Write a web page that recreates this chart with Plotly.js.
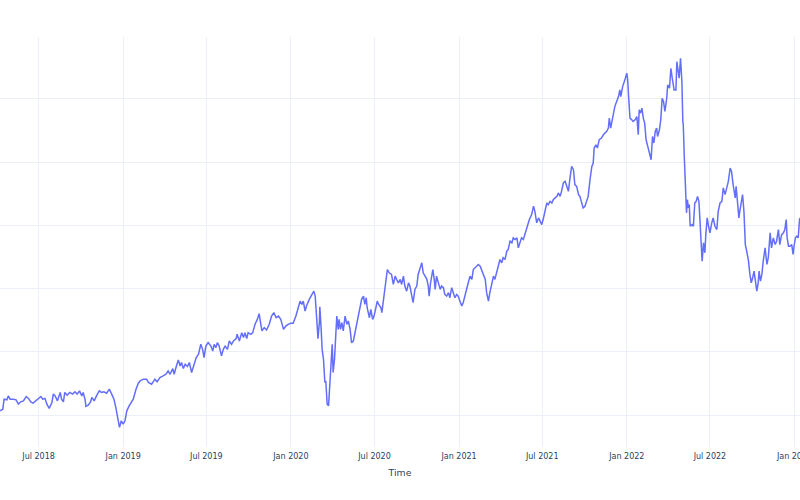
<!DOCTYPE html>
<html>
<head>
<meta charset="utf-8">
<script src="https://cdn.plot.ly/plotly-3.0.1.min.js"></script>
<style>
  html, body { margin: 0; padding: 0; background: #fff; overflow: hidden; }
  #wrap { width: 800px; height: 500px; overflow: hidden; }
  #chart { width: 830px; height: 500px; }
</style>
</head>
<body>
<div id="wrap"><div id="chart"></div></div>
<script>
// values (y axis has no visible labels, so units are arbitrary)
const dates = [
  '2018-04-08','2018-04-14','2018-04-17','2018-04-23','2018-04-26','2018-04-30','2018-05-07','2018-05-13','2018-05-18','2018-05-23',
  '2018-05-29','2018-06-04','2018-06-09','2018-06-14','2018-06-19','2018-06-25','2018-06-30','2018-07-06','2018-07-10','2018-07-15',
  '2018-07-19','2018-07-24','2018-07-30','2018-08-02','2018-08-06','2018-08-11','2018-08-17','2018-08-20','2018-08-24','2018-08-27',
  '2018-09-01','2018-09-07','2018-09-13','2018-09-18','2018-09-23','2018-09-28','2018-10-03','2018-10-06','2018-10-10','2018-10-12',
  '2018-10-17','2018-10-22','2018-10-25','2018-10-30','2018-11-04','2018-11-10','2018-11-15','2018-11-20','2018-11-26','2018-12-02',
  '2018-12-07','2018-12-12','2018-12-16','2018-12-19','2018-12-24','2018-12-28','2019-01-01','2019-01-05','2019-01-09','2019-01-14',
  '2019-01-20','2019-01-23','2019-01-29','2019-02-03','2019-02-07','2019-02-14','2019-02-21','2019-02-25','2019-03-04','2019-03-11',
  '2019-03-16','2019-03-22','2019-03-29','2019-04-04','2019-04-09','2019-04-13','2019-04-19','2019-04-22','2019-04-26','2019-05-01',
  '2019-05-05','2019-05-08','2019-05-12','2019-05-16','2019-05-21','2019-05-25','2019-05-30','2019-06-04','2019-06-09','2019-06-14',
  '2019-06-19','2019-06-23','2019-06-26','2019-06-30','2019-07-05','2019-07-11','2019-07-15','2019-07-18','2019-07-22','2019-07-25',
  '2019-07-29','2019-08-03','2019-08-07','2019-08-11','2019-08-16','2019-08-20','2019-08-25','2019-08-29','2019-09-04','2019-09-06',
  '2019-09-11','2019-09-16','2019-09-20','2019-09-23','2019-09-27','2019-09-30','2019-10-06','2019-10-10','2019-10-15','2019-10-20',
  '2019-10-24','2019-10-27','2019-10-30','2019-11-04','2019-11-09','2019-11-15','2019-11-20','2019-11-25','2019-11-30','2019-12-05',
  '2019-12-10','2019-12-16','2019-12-21','2019-12-26','2020-01-01','2020-01-06','2020-01-12','2020-01-17','2020-01-21','2020-01-25',
  '2020-01-28','2020-02-01','2020-02-04','2020-02-10','2020-02-15','2020-02-20','2020-02-23','2020-02-26','2020-02-29','2020-03-03',
  '2020-03-04','2020-03-07','2020-03-09','2020-03-12','2020-03-15','2020-03-17','2020-03-20','2020-03-23','2020-03-26','2020-03-29',
  '2020-03-31','2020-04-02','2020-04-05','2020-04-08','2020-04-10','2020-04-13','2020-04-15','2020-04-18','2020-04-21','2020-04-24',
  '2020-04-28','2020-05-02','2020-05-05','2020-05-09','2020-05-12','2020-05-16','2020-05-20','2020-05-23','2020-05-27','2020-05-30',
  '2020-06-03','2020-06-07','2020-06-10','2020-06-13','2020-06-15','2020-06-20','2020-06-23','2020-06-27','2020-06-30','2020-07-04',
  '2020-07-07','2020-07-10','2020-07-15','2020-07-17','2020-07-20','2020-07-24','2020-07-29','2020-08-02','2020-08-07','2020-08-11',
  '2020-08-15','2020-08-18','2020-08-22','2020-08-26','2020-08-29','2020-09-02','2020-09-05','2020-09-09','2020-09-13','2020-09-16',
  '2020-09-20','2020-09-23','2020-09-27','2020-10-01','2020-10-04','2020-10-08','2020-10-12','2020-10-15','2020-10-19','2020-10-23',
  '2020-10-26','2020-10-28','2020-10-31','2020-11-05','2020-11-08','2020-11-10','2020-11-13','2020-11-17','2020-11-21','2020-11-24',
  '2020-11-28','2020-12-01','2020-12-05','2020-12-09','2020-12-12','2020-12-16','2020-12-20','2020-12-23','2020-12-27','2020-12-30',
  '2021-01-03','2021-01-07','2021-01-10','2021-01-14','2021-01-18','2021-01-21','2021-01-25','2021-01-29','2021-02-01','2021-02-05',
  '2021-02-08','2021-02-12','2021-02-16','2021-02-19','2021-02-23','2021-02-27','2021-03-02','2021-03-06','2021-03-09','2021-03-13',
  '2021-03-17','2021-03-20','2021-03-24','2021-03-27','2021-03-31','2021-04-04','2021-04-07','2021-04-11','2021-04-15','2021-04-18',
  '2021-04-22','2021-04-26','2021-04-29','2021-05-03','2021-05-07','2021-05-10','2021-05-14','2021-05-17','2021-05-21','2021-05-25',
  '2021-05-28','2021-06-01','2021-06-03','2021-06-08','2021-06-12','2021-06-15','2021-06-19','2021-06-23','2021-06-26','2021-06-30',
  '2021-07-03','2021-07-07','2021-07-11','2021-07-14','2021-07-18','2021-07-22','2021-07-25','2021-07-29','2021-08-02','2021-08-05',
  '2021-08-09','2021-08-12','2021-08-16','2021-08-20','2021-08-23','2021-08-27','2021-08-30','2021-09-03','2021-09-07','2021-09-10',
  '2021-09-14','2021-09-18','2021-09-21','2021-09-25','2021-09-28','2021-10-02','2021-10-06','2021-10-09','2021-10-13','2021-10-17',
  '2021-10-20','2021-10-22','2021-10-26','2021-10-29','2021-11-02','2021-11-07','2021-11-11','2021-11-15','2021-11-18','2021-11-22',
  '2021-11-24','2021-11-27','2021-11-30','2021-12-03','2021-12-06','2021-12-10','2021-12-14','2021-12-17','2021-12-19','2021-12-23',
  '2021-12-26','2021-12-29','2022-01-01','2022-01-03','2022-01-05','2022-01-08','2022-01-12','2022-01-15','2022-01-19','2022-01-23',
  '2022-01-26','2022-01-28','2022-01-31','2022-02-03','2022-02-06','2022-02-09','2022-02-12','2022-02-15','2022-02-19','2022-02-23',
  '2022-02-26','2022-03-01','2022-03-04','2022-03-07','2022-03-09','2022-03-13','2022-03-16','2022-03-19','2022-03-22','2022-03-25',
  '2022-03-29','2022-03-31','2022-04-04','2022-04-07','2022-04-10','2022-04-14','2022-04-18','2022-04-20','2022-04-23','2022-04-25',
  '2022-04-28','2022-05-01','2022-05-03','2022-05-04','2022-05-06','2022-05-08','2022-05-11','2022-05-13','2022-05-15','2022-05-17',
  '2022-05-19','2022-05-23','2022-05-26','2022-05-29','2022-06-01','2022-06-04','2022-06-07','2022-06-09','2022-06-12','2022-06-14',
  '2022-06-17','2022-06-20','2022-06-22','2022-06-25','2022-06-28','2022-07-01','2022-07-05','2022-07-08','2022-07-12','2022-07-16',
  '2022-07-19','2022-07-23','2022-07-27','2022-07-30','2022-08-03','2022-08-07','2022-08-10','2022-08-14','2022-08-17','2022-08-21',
  '2022-08-25','2022-08-27','2022-08-30','2022-09-02','2022-09-04','2022-09-07','2022-09-10','2022-09-13','2022-09-16','2022-09-19',
  '2022-09-23','2022-09-26','2022-09-29','2022-10-02','2022-10-05','2022-10-08','2022-10-11','2022-10-14','2022-10-16','2022-10-19',
  '2022-10-22','2022-10-25','2022-10-29','2022-11-02','2022-11-05','2022-11-09','2022-11-12','2022-11-16','2022-11-20','2022-11-23',
  '2022-11-27','2022-11-30','2022-12-04','2022-12-08','2022-12-11','2022-12-14','2022-12-16','2022-12-19','2022-12-22','2022-12-26',
  '2022-12-29','2022-12-31','2023-01-03','2023-01-06','2023-01-09','2023-01-12','2023-01-13'
];

const values = [
  103.4,104.7,112.6,112.1,115.2,112.6,112.6,112.1,108.7,110.5,
  111.3,114.7,113.2,110.5,109.5,111.3,112.6,114.7,112.6,113.2,
  108.7,105.3,110.0,116.6,115.2,111.3,117.9,112.6,110.5,117.9,
  115.8,117.9,116.6,118.4,116.6,119.2,115.2,117.9,112.6,106.9,
  107.9,110.5,114.0,111.3,115.2,119.2,117.9,118.4,117.3,120.5,
  116.6,112.6,106.1,99.4,90.3,95.5,92.9,95.5,103.4,107.3,
  111.3,112.6,120.5,125.2,127.0,128.4,128.4,125.8,124.4,128.4,
  126.3,129.7,131.0,132.3,134.9,132.3,136.8,132.3,137.6,143.6,
  138.9,141.6,136.8,140.2,138.4,141.6,133.7,139.4,145.5,148.1,
  156.0,152.0,145.5,154.6,157.3,154.6,150.7,156.0,153.4,157.3,
  154.6,146.8,152.0,154.6,152.0,158.6,156.0,158.6,160.5,163.9,
  158.6,165.2,161.3,165.2,160.5,165.2,163.9,165.2,171.8,175.7,
  180.2,173.1,166.6,169.2,167.3,171.8,178.3,181.0,177.0,178.3,
  175.7,167.8,170.4,171.8,172.6,172.6,178.3,184.9,190.1,187.5,
  190.1,182.3,186.2,191.5,195.4,198.0,194.1,178.3,160.5,173.1,
  185.7,167.8,152.0,144.2,125.8,127.0,108.7,107.3,128.4,152.0,
  156.0,133.7,144.2,165.2,178.3,167.8,175.7,167.8,173.1,166.5,
  178.3,171.8,174.4,167.8,157.3,158.6,166.5,169.2,179.6,183.6,
  191.5,194.1,187.5,192.8,184.9,177.0,183.6,175.7,178.3,184.9,
  190.1,187.5,184.9,181.0,188.9,202.0,215.1,212.5,211.2,203.3,
  209.9,207.3,204.6,207.3,203.3,209.9,202.0,198.0,204.6,202.0,
  195.4,188.9,199.4,202.0,211.2,215.1,220.4,212.5,209.9,207.3,
  202.0,194.1,204.6,215.1,207.3,199.4,209.9,204.6,199.4,202.0,
  200.7,195.4,194.1,196.8,192.8,200.7,195.4,192.8,195.4,194.1,
  190.1,186.2,188.9,195.4,199.4,204.6,209.9,207.3,215.1,216.5,
  217.7,219.1,217.7,215.1,211.2,207.3,196.8,190.1,196.8,204.6,
  209.9,207.3,213.8,216.5,223.0,220.4,224.4,223.0,229.6,230.9,
  237.5,236.2,240.1,238.8,240.1,232.2,237.5,240.1,238.8,244.1,
  248.3,253.8,254.6,258.5,265.1,261.1,252.0,255.9,253.2,250.6,
  254.6,261.1,267.7,266.4,269.0,267.7,270.3,271.7,272.9,275.6,
  272.9,276.9,283.5,284.8,280.8,276.9,286.1,296.6,294.0,282.2,
  280.8,274.3,272.9,267.7,263.8,265.1,270.3,272.9,286.1,296.6,
  299.3,311.1,313.7,311.1,317.7,319.0,321.6,322.9,324.2,326.9,
  334.8,326.9,332.1,337.4,343.9,347.9,351.8,357.1,351.8,359.7,
  362.4,366.3,370.3,365.0,351.8,334.8,333.4,332.1,333.4,336.0,
  321.6,341.3,338.7,342.7,334.8,330.8,317.7,313.7,307.2,301.9,
  320.3,315.1,324.2,326.9,320.3,325.5,333.4,350.5,347.9,340.0,
  350.5,361.0,358.4,374.2,366.3,357.1,357.1,379.4,371.5,366.3,
  382.1,363.6,332.1,329.5,305.8,282.2,259.9,270.3,263.8,266.4,
  249.3,250.6,249.3,267.7,269.0,272.9,269.0,255.9,237.5,221.7,
  236.2,228.3,242.7,255.9,249.3,244.1,252.0,255.9,249.3,246.7,
  261.1,267.7,269.0,279.6,274.3,279.6,284.8,295.3,292.7,280.8,
  271.7,280.8,269.0,255.9,261.1,269.0,274.3,261.1,234.8,229.6,
  221.7,211.2,204.6,208.6,213.8,205.9,198.0,204.6,213.8,205.9,
  211.2,221.7,232.2,219.1,224.4,244.1,232.2,240.1,234.8,237.5,
  246.7,234.8,242.7,244.1,246.7,254.6,240.1,233.5,233.5,234.8,
  227.0,233.5,240.1,241.4,240.1,254.6,255.9
];

const xTitle = 'Time';

const data = [{
  type: 'scatter',
  mode: 'lines',
  x: dates,
  y: values,
  line: { color: '#636efa', width: 1.5 },
  hoverinfo: 'skip'
}];

// plot area spans x 0..800 of the window; the extra 30px on the right only
// leaves room for the last tick label, which the window then cuts off
const layout = {
  width: 830,
  height: 500,
  margin: { l: 0, r: 30, t: 37, b: 53 },
  paper_bgcolor: '#ffffff',
  plot_bgcolor: '#ffffff',
  font: { family: 'DejaVu Sans', size: 8, color: '#2a3f5f' },
  showlegend: false,
  xaxis: {
    type: 'date',
    range: ['2018-04-08', '2023-01-13'],
    dtick: 'M6',
    tick0: '2018-01-01',
    tickformat: '%b %Y',
    gridcolor: '#EBF0F8',
    showline: false,
    zeroline: false,
    ticks: '',
    ticklabelstandoff: 3,
    automargin: false,
    title: { text: xTitle, font: { size: 9.3 }, standoff: 9 }
  },
  yaxis: {
    range: [74.8, 398.9],
    dtick: 50,
    tick0: 0,
    gridcolor: '#EBF0F8',
    showticklabels: false,
    zeroline: false,
    showline: false,
    ticks: ''
  }
};

Plotly.newPlot('chart', data, layout, { displayModeBar: false, staticPlot: true });
</script>
</body>
</html>
